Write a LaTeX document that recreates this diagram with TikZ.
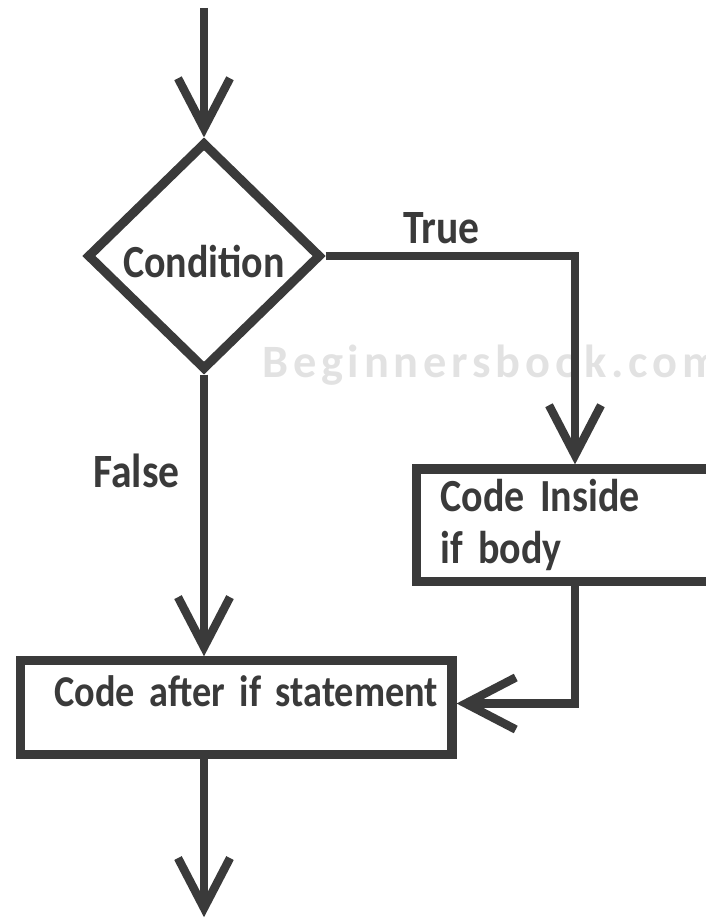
\documentclass[tikz,border=0pt]{standalone}
\usepackage{fontspec}
\setmainfont{Carlito}[FakeStretch=0.87]
\newfontfamily\wmfont{Carlito}[LetterSpace=10.3]
\usepackage{xcolor}
\usepackage{tikz}
\usetikzlibrary{positioning,calc,shapes.geometric,arrows.meta}

\definecolor{ink}{HTML}{3A3A3A}
\definecolor{wmgray}{HTML}{E2E2E2}

\begin{document}
\begin{tikzpicture}[
	% Style cho các đường nối có mũi tên
	flow/.style={
		-{Straight Barb[length=1.25cm, width=1.3cm]},
		draw=ink, line width=6pt
	},
	% Style cho khối điều kiện (hình thoi)
	cond/.style={diamond, draw=ink, line width=6.5pt, inner sep=0pt,
		minimum width=5.85cm, minimum height=5.7cm, text=ink,
		font=\bfseries\fontsize{32.7}{37}\selectfont, text height=1.1cm},
	% Style cho các khối lệnh
	codebox/.style={rectangle, draw=ink, line width=6.5pt, text=ink,
		inner ysep=0pt, font=\bfseries\fontsize{32.7}{37}\selectfont},
	% Style cho nhãn True / False
	lbl/.style={text=ink, inner sep=0pt, font=\bfseries\fontsize{34}{40}\selectfont},
	% Style cho chữ chìm
	wmark/.style={text=wmgray, inner sep=0pt, font=\wmfont\bfseries\fontsize{33}{40}\selectfont}
	]
	
	\useasboundingbox (0,0) rectangle (17.65,-22.975);
	
	% ================= Chữ chìm =================
	\node[wmark, anchor=base west] (wm) at (6.55,-9.425) {Beginnersbook.com};
	
	% ================= Điều kiện =================
	\coordinate (start) at (5.1,-0.2);
	\node[cond] (test) at (5.1,-6.4) {Condition};
	
	% ================= Các khối lệnh =================
	\node[codebox, minimum width=7.925cm, minimum height=2.8125cm,
		inner xsep=0.6cm, text width=6.725cm, align=left]
		(inside) at (14.375,-13.13) {Code Inside\\if body};
	\node[codebox, font=\bfseries\fontsize{31.3}{37}\selectfont,
		inner xsep=0.35cm, text width=10.09cm, align=right,
		text height=1.15cm, text depth=1.1875cm]
		(after) at (5.906,-17.69) {Code after if statement};
	\coordinate (stop) at (5.1,-22.93);
	
	% ================= Nhãn =================
	\node[lbl, anchor=base west] (truelbl) at (10.07,-6.08) {True};
	\node[lbl, anchor=base west] (falselbl) at (2.33,-12.18) {False};
	
	% ================= Mũi tên =================
	\draw[flow] (start) -- (test.north);
	\draw[flow] (test.east) -| (inside.north);
	\draw[flow] (test.south) -- (test.south |- after.north);
	\draw[flow] (inside.south) |- (after.mid east);
	\draw[flow] (after.south -| test.south) -- (stop);
	
\end{tikzpicture}
\end{document}
